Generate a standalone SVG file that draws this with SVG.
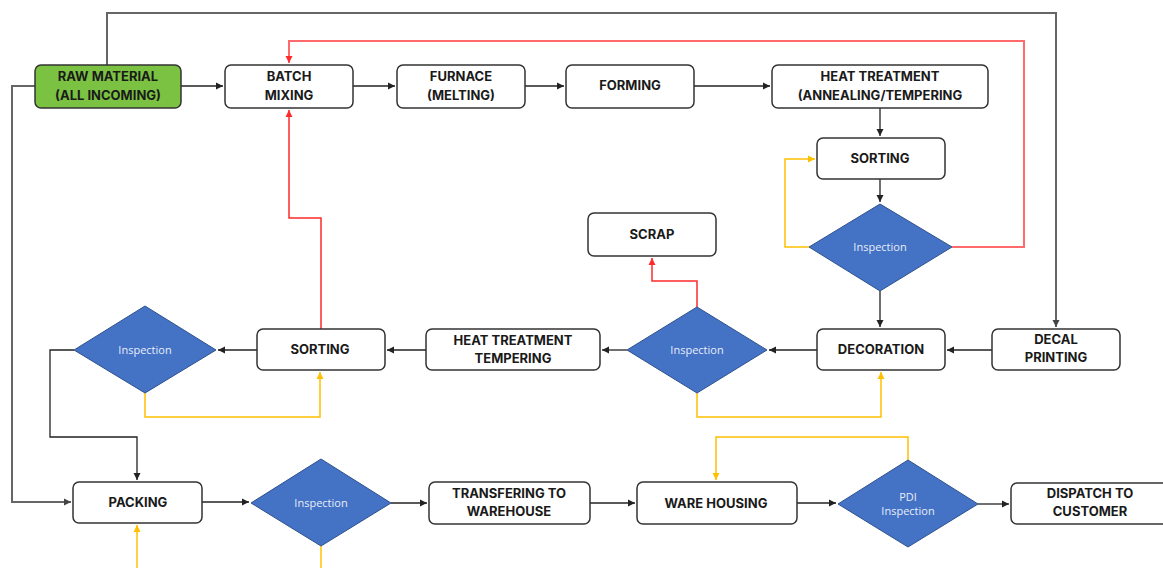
<svg xmlns="http://www.w3.org/2000/svg" width="1163" height="568" viewBox="0 0 1163 568">
<style>
.box{fill:#fff;stroke:#333;stroke-width:1.5}
.raw{fill:#7cc242;stroke:#333;stroke-width:1.5}
.dia{fill:#4472c4;stroke:#2f528f;stroke-width:1}
.t{font-family:Inter,"Liberation Sans",sans-serif;font-weight:700;font-size:13px;fill:#1a1a1a;text-anchor:middle}
.d{font-family:"Open Sans","Liberation Sans",sans-serif;font-size:11px;fill:#e8eefa;text-anchor:middle}
.k{fill:none;stroke:#222;stroke-width:1.3}
.g{fill:none;stroke:#666;stroke-width:2}
.r{fill:none;stroke:#ff2a2a;stroke-width:1.5}
.rp{fill:none;stroke:#ff6b6b;stroke-width:2}
.y{fill:none;stroke:#ffc000;stroke-width:1.5}
</style>
<defs>
<marker id="ak" markerWidth="8" markerHeight="8" refX="7" refY="4" orient="auto" markerUnits="userSpaceOnUse"><path d="M0,0.5 L7,4 L0,7.5 Z" fill="#222"/></marker>
<marker id="ag" markerWidth="8" markerHeight="8" refX="7" refY="4" orient="auto" markerUnits="userSpaceOnUse"><path d="M0,0.5 L7,4 L0,7.5 Z" fill="#444"/></marker>
<marker id="ar" markerWidth="8" markerHeight="8" refX="7" refY="4" orient="auto" markerUnits="userSpaceOnUse"><path d="M0,0.5 L7,4 L0,7.5 Z" fill="#ff2a2a"/></marker>
<marker id="ay" markerWidth="8" markerHeight="8" refX="7" refY="4" orient="auto" markerUnits="userSpaceOnUse"><path d="M0,0.5 L7,4 L0,7.5 Z" fill="#ffc000"/></marker>
</defs>
<rect width="1163" height="568" fill="#fff"/>
<g id="connectors">
<path class="g" d="M107,65 V13 H1056 V327" marker-end="url(#ag)"/>
<path class="g" d="M35,86 H12 V502 H71" marker-end="url(#ag)"/>
<path class="rp" d="M952,247 H1024 V41 H289 V63" marker-end="url(#ar)"/>
<path class="r" d="M321,329 V218 H289 V110" marker-end="url(#ar)"/>
<path class="r" d="M697,307 V281 H652 V258" marker-end="url(#ar)"/>
<path class="k" d="M181,86 H223" marker-end="url(#ak)"/>
<path class="k" d="M353,86 H395" marker-end="url(#ak)"/>
<path class="k" d="M525,86 H564" marker-end="url(#ak)"/>
<path class="k" d="M694,86 H770" marker-end="url(#ak)"/>
<path class="k" d="M880,108 V136" marker-end="url(#ak)"/>
<path class="k" d="M880,179 V202" marker-end="url(#ak)"/>
<path class="k" d="M880,291 V327" marker-end="url(#ak)"/>
<path class="y" d="M809,247 H785 V159 H815" marker-end="url(#ay)"/>
<path class="k" d="M992,350 H947" marker-end="url(#ak)"/>
<path class="k" d="M817,350 H769" marker-end="url(#ak)"/>
<path class="k" d="M627,350 H602" marker-end="url(#ak)"/>
<path class="k" d="M426,350 H387" marker-end="url(#ak)"/>
<path class="k" d="M257,350 H218" marker-end="url(#ak)"/>
<path class="y" d="M697,393 V417 H881 V372" marker-end="url(#ay)"/>
<path class="y" d="M145,393 V417 H320 V372" marker-end="url(#ay)"/>
<path class="k" d="M74,350 H50 V437 H137 V480" marker-end="url(#ak)"/>
<path class="k" d="M202,502 H249" marker-end="url(#ak)"/>
<path class="k" d="M391,503 H427" marker-end="url(#ak)"/>
<path class="k" d="M590,503 H635" marker-end="url(#ak)"/>
<path class="k" d="M797,503 H836" marker-end="url(#ak)"/>
<path class="k" d="M978,504 H1009" marker-end="url(#ak)"/>
<path class="y" d="M908,460 V437 H716 V480" marker-end="url(#ay)"/>
<path class="y" d="M137,568 V525" marker-end="url(#ay)"/>
<path class="y" d="M321,546 V568"/>
</g>
<g id="raw"><rect class="raw" x="35" y="65" width="146" height="43" rx="6"/><text class="t" x="108" y="81">RAW MATERIAL</text><text class="t" x="108" y="100">(ALL INCOMING)</text></g>
<g id="batch"><rect class="box" x="225" y="65" width="128" height="43" rx="6"/><text class="t" x="289" y="81">BATCH</text><text class="t" x="289" y="100">MIXING</text></g>
<g id="furnace"><rect class="box" x="397" y="65" width="128" height="43" rx="6"/><text class="t" x="461" y="81">FURNACE</text><text class="t" x="461" y="100">(MELTING)</text></g>
<g id="forming"><rect class="box" x="566" y="65" width="128" height="43" rx="6"/><text class="t" x="630" y="90">FORMING</text></g>
<g id="heat1"><rect class="box" x="772" y="65" width="216" height="43" rx="6"/><text class="t" x="880" y="81">HEAT TREATMENT</text><text class="t" x="880" y="100">(ANNEALING/TEMPERING</text></g>
<g id="sorting1"><rect class="box" x="817" y="138" width="128" height="41" rx="6"/><text class="t" x="880" y="163">SORTING</text></g>
<g id="insp1"><polygon class="dia" points="880,204 952,247 880,291 809,247"/><text class="d" x="880" y="251">Inspection</text></g>
<g id="scrap"><rect class="box" x="588" y="213" width="128" height="43" rx="6"/><text class="t" x="652" y="239">SCRAP</text></g>
<g id="decoration"><rect class="box" x="817" y="329" width="128" height="41" rx="6"/><text class="t" x="881" y="354">DECORATION</text></g>
<g id="decal"><rect class="box" x="992" y="329" width="128" height="41" rx="6"/><text class="t" x="1056" y="344">DECAL</text><text class="t" x="1056" y="362">PRINTING</text></g>
<g id="insp2"><polygon class="dia" points="697,307 767,350 697,393 627,350"/><text class="d" x="697" y="354">Inspection</text></g>
<g id="heat2"><rect class="box" x="426" y="329" width="174" height="41" rx="6"/><text class="t" x="513" y="345">HEAT TREATMENT</text><text class="t" x="513" y="363">TEMPERING</text></g>
<g id="sorting2"><rect class="box" x="257" y="329" width="128" height="41" rx="6"/><text class="t" x="320" y="354">SORTING</text></g>
<g id="insp3"><polygon class="dia" points="145,306 216,350 145,393 74,350"/><text class="d" x="145" y="354">Inspection</text></g>
<g id="packing"><rect class="box" x="73" y="482" width="129" height="41" rx="6"/><text class="t" x="138" y="507">PACKING</text></g>
<g id="insp4"><polygon class="dia" points="321,459 391,503 321,546 251,503"/><text class="d" x="321" y="507">Inspection</text></g>
<g id="transfer"><rect class="box" x="429" y="482" width="161" height="42" rx="6"/><text class="t" x="509" y="498">TRANSFERING TO</text><text class="t" x="509" y="516">WAREHOUSE</text></g>
<g id="warehousing"><rect class="box" x="637" y="482" width="160" height="42" rx="6"/><text class="t" x="716" y="508">WARE HOUSING</text></g>
<g id="pdi"><polygon class="dia" points="908,460 978,504 908,547 838,504"/><text class="d" x="908" y="501">PDI</text><text class="d" x="908" y="515">Inspection</text></g>
<g id="dispatch"><rect class="box" x="1011" y="483" width="160" height="41" rx="6"/><text class="t" x="1090" y="498">DISPATCH TO</text><text class="t" x="1090" y="516">CUSTOMER</text></g>
</svg>
